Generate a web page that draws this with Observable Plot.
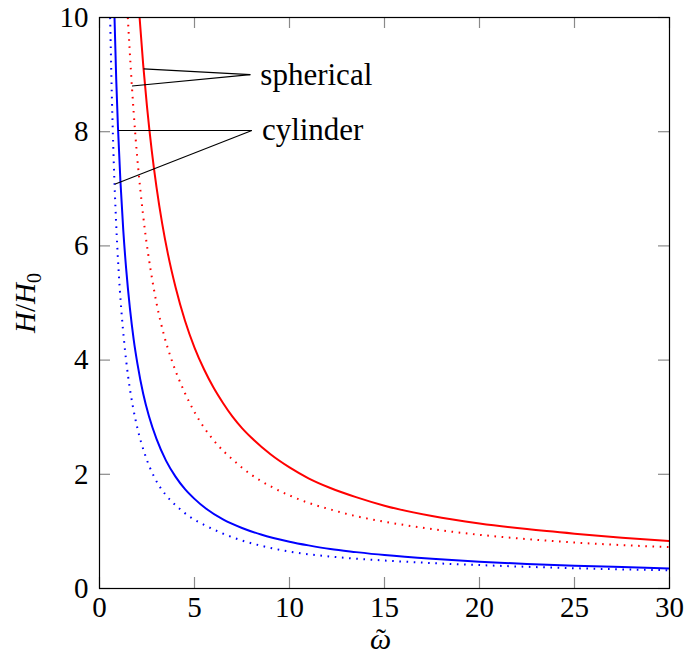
<!DOCTYPE html>
<html><head><meta charset="utf-8">
<script src="https://cdn.jsdelivr.net/npm/d3@7"></script>
<script src="https://cdn.jsdelivr.net/npm/@observablehq/plot@0.6"></script>
<style>body{margin:0;background:#fff} svg{display:block}</style>
</head><body><div id="chart"></div>
<script>
// ---- data ----
const redSolidW = [2.11, 2.3, 2.5, 2.75, 3.0, 3.3, 3.6, 4.0, 4.5, 5.0, 5.5, 6.0, 6.5, 7.0, 7.5, 8.0, 9.0, 10, 11, 12.15, 13.5, 15, 17.5, 20, 22.5, 25, 27.5, 30];
const redSolidH = [10, 9.17, 8.44, 7.67, 7.03, 6.39, 5.86, 5.28, 4.69, 4.22, 3.84, 3.52, 3.25, 3.01, 2.81, 2.64, 2.35, 2.12, 1.93, 1.76, 1.60, 1.45, 1.27, 1.14, 1.04, 0.96, 0.89, 0.83];
const redDotW = [1.49, 1.7, 1.9, 2.15, 2.4, 2.7, 3.0, 3.4, 3.8, 4.5, 5.0, 5.5, 6.2, 7.0, 8.0, 9.0, 10, 11, 12.15, 13.5, 15, 17.5, 20, 22.5, 25, 27.5, 30];
const redDotH = [10, 8.82, 7.89, 6.98, 6.25, 5.56, 5.0, 4.43, 4.0, 3.42, 3.09, 2.82, 2.52, 2.26, 1.99, 1.79, 1.63, 1.50, 1.385, 1.267, 1.17, 1.04, 0.94, 0.865, 0.805, 0.76, 0.725];
const blueSolidW = [0.79, 0.88, 0.97, 1.1, 1.25, 1.4, 1.6, 1.8, 2.0, 2.3, 2.6, 3.0, 3.5, 4.0, 4.5, 5.0, 5.6, 6.5, 7.5, 8.5, 10, 11, 12.15, 13.5, 15, 17.5, 20, 22.5, 25, 27.5, 30];
const blueSolidH = [10, 8.92, 8.09, 7.14, 6.28, 5.61, 4.91, 4.36, 3.93, 3.41, 3.02, 2.62, 2.24, 1.96, 1.74, 1.57, 1.40, 1.21, 1.06, 0.945, 0.82, 0.755, 0.69, 0.637, 0.585, 0.52, 0.47, 0.43, 0.40, 0.375, 0.35];
const blueDotW = [0.56, 0.65, 0.75, 0.87, 1.0, 1.15, 1.3, 1.5, 1.75, 2.0, 2.4, 2.9, 3.46, 4.1, 4.78, 5.5, 6.44, 7.4, 8.37, 10.04, 11, 12.15, 13.5, 15, 17.5, 20, 22.5, 25, 27.5, 30];
const blueDotH = [10, 8.62, 7.47, 6.44, 5.6, 4.87, 4.31, 3.73, 3.2, 2.8, 2.34, 1.94, 1.65, 1.43, 1.25, 1.115, 0.97, 0.851, 0.76, 0.645, 0.6, 0.56, 0.522, 0.49, 0.445, 0.41, 0.38, 0.355, 0.335, 0.32];

const xTicks = [0, 5, 10, 15, 20, 25, 30];
const yTicks = [0, 2, 4, 6, 8, 10];
const xLabel = "ω";
const yLabel = "H/H0";

// annotation pins
const labelText = ["spherical", "cylinder"];
const labelW = [7.94, 8.02];
const labelH = [9.0, 8.02];
const pinTargets = [[[2.32, 9.1], [1.71, 8.8]], [[0.99, 8.02], [0.80, 7.08]]];

// ---- build tables ----
const zip = (w, h) => w.map((x, i) => ({w: x, h: h[i]}));
const curves = [
  {data: zip(redSolidW, redSolidH), color: "#ff0000", dash: null},
  {data: zip(redDotW, redDotH), color: "#ff0000", dash: "1.6,5.6"},
  {data: zip(blueSolidW, blueSolidH), color: "#0000ff", dash: null},
  {data: zip(blueDotW, blueDotH), color: "#0000ff", dash: "1.6,5.6"}
];
const labels = labelText.map((t, i) => ({t, w: labelW[i], h: labelH[i]}));
const pins = pinTargets.flatMap((ts, i) => ts.map(([w, h]) => ({x1: labelW[i], y1: labelH[i], x2: w, y2: h})));

const FONT = "'Liberation Serif', 'Times New Roman', serif";
const FS = 29;
const W = 686, H = 658, mL = 99, mR = 17, mT = 17, mB = 70;
const innerW = W - mL - mR, innerH = H - mT - mB, TL = 11;
const tickStyle = {stroke: "#8a8a8a", strokeWidth: 1.2};

const chart = Plot.plot({
  width: W, height: H,
  marginLeft: mL, marginRight: mR, marginTop: mT, marginBottom: mB,
  style: {fontFamily: FONT, background: "#fff", color: "#000"},
  x: {domain: [0, 30]},
  y: {domain: [0, 10]},
  marks: [
    // inward ticks on all sides
    Plot.tickX(xTicks, {x: d => d, insetTop: innerH - TL, ...tickStyle}),
    Plot.tickX(xTicks, {x: d => d, insetBottom: innerH - TL, ...tickStyle}),
    Plot.tickY(yTicks, {y: d => d, insetRight: innerW - TL, ...tickStyle}),
    Plot.tickY(yTicks, {y: d => d, insetLeft: innerW - TL, ...tickStyle}),
    ...curves.map(c => Plot.line(c.data, {x: "w", y: "h", stroke: c.color, strokeWidth: 2,
      strokeDasharray: c.dash, strokeLinecap: "butt", curve: "monotone-x", clip: true})),
    Plot.link(pins, {x1: "x1", y1: "y1", x2: "x2", y2: "y2", stroke: "#000", strokeWidth: 1.1}),
    Plot.text(labels, {x: "w", y: "h", text: "t", dx: 10, textAnchor: "start", lineAnchor: "middle",
      fontSize: 31, fontFamily: FONT, fill: "#000"}),
    Plot.frame({stroke: "#000", strokeWidth: 1.2}),
    Plot.axisX({ticks: xTicks, tickSize: 0, tickPadding: 8, label: null, fontSize: FS, fontFamily: FONT}),
    Plot.axisY({ticks: yTicks, tickSize: 0, tickPadding: 11, label: null, fontSize: FS, fontFamily: FONT}),
    Plot.text([xLabel], {text: d => d, frameAnchor: "bottom", dy: 51, lineAnchor: "middle", textAnchor: "middle",
      fontSize: 30, fontFamily: FONT, fontStyle: "italic", fill: "#000"}),
    Plot.text([yLabel], {text: d => d, frameAnchor: "left", dx: -74, rotate: -90, lineAnchor: "middle", textAnchor: "middle",
      fontSize: FS, fontFamily: FONT, fill: "#000"})
  ]
});

// rich formatting: italic H with subscript 0; tilde accent over omega (same text element)
d3.select(chart).selectAll("text").each(function() {
  if (this.textContent === yLabel) {
    const t = d3.select(this);
    t.text(null);
    t.append("tspan").attr("font-style", "italic").text("H");
    t.append("tspan").text("/");
    t.append("tspan").attr("font-style", "italic").text("H");
    t.append("tspan").attr("font-size", 20).attr("dy", "0.3em").text("0");
  } else if (this.textContent === xLabel) {
    const t = d3.select(this);
    t.text(null);
    t.append("tspan").attr("dx", -4).text("ω");
    t.append("tspan").attr("font-style", "normal").attr("dx", -15).text("\u02DC");
  }
});
document.getElementById("chart").appendChild(chart);
</script>
</body></html>
